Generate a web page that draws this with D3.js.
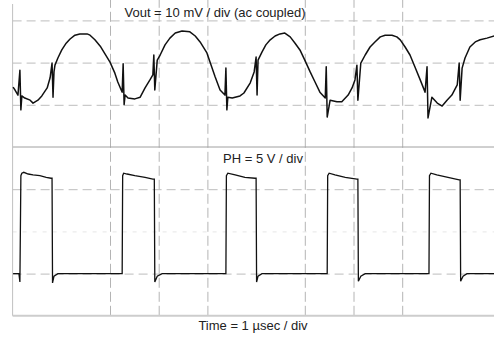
<!DOCTYPE html>
<html>
<head>
<meta charset="utf-8">
<script src="https://cdn.jsdelivr.net/npm/d3@7"></script>
<style>
  body { margin: 0; background: #fff; }
  text { font-family: "Liberation Sans", Arial, sans-serif; font-size: 13px; fill: #222; }
</style>
</head>
<body>
<div id="scope"></div>
<script>
// time in usec, Vout in mV (ac coupled), PH in V
const gridTimes = [2, 3, 4, 6, 7, 8];
const dashedDivs = [3, 2, 1, -1, -3];
const faintDivs = [-2];

const voutT = [0.01, 0.05, 0.11, 0.15, 0.17, 0.19, 0.25, 0.36, 0.42, 0.52, 0.60, 0.71, 0.77, 0.81, 0.83, 0.85, 0.87, 0.93,
  1.01, 1.10, 1.18, 1.28, 1.38, 1.53, 1.59, 1.69, 1.80, 1.90, 2.00, 2.10, 2.16, 2.23, 2.25, 2.27, 2.29, 2.31, 2.37, 2.51,
  2.62, 2.72, 2.82, 2.88, 2.90, 2.92, 2.97, 3.03, 3.13, 3.23, 3.34, 3.48, 3.64, 3.75, 3.85, 3.99, 4.16, 4.26, 4.36, 4.38,
  4.40, 4.42, 4.51, 4.67, 4.75, 4.88, 4.96, 5.00, 5.02, 5.04, 5.12, 5.20, 5.29, 5.39, 5.49, 5.59, 5.70, 5.80, 5.90, 6.00,
  6.11, 6.21, 6.31, 6.42, 6.44, 6.46, 6.52, 6.66, 6.76, 6.89, 6.97, 7.03, 7.07, 7.09, 7.15, 7.24, 7.34, 7.44, 7.55, 7.65,
  7.79, 7.89, 7.96, 8.06, 8.16, 8.26, 8.37, 8.47, 8.51, 8.53, 8.61, 8.72, 8.82, 8.92, 9.02, 9.13, 9.17, 9.19, 9.23, 9.29,
  9.39, 9.50, 9.60, 9.74, 9.89];
const voutMv = [-5.8, -6.5, -7.7, -1.8, -11.2, -7.9, -8.4, -8.9, -9.6, -8.9, -7.9, -6.0, -3.6, -0.1, -8.2, -2.2, -0.6, 1.1,
  3.0, 4.6, 5.6, 6.5, 6.8, 6.8, 6.5, 5.4, 3.9, 2.0, 0.1, -2.5, -4.6, -6.5, -7.0, -0.3, -10.0, -7.7, -8.4, -8.6,
  -8.2, -6.0, -4.1, -2.9, 1.8, -6.5, 0.6, 1.8, 4.2, 5.8, 7.0, 7.5, 7.3, 6.3, 4.9, 2.3, -3.4, -6.5, -7.7, -1.3,
  -11.2, -8.2, -8.4, -7.9, -7.2, -4.8, -2.2, 1.3, -7.7, 0.6, 2.5, 4.2, 5.4, 6.3, 6.8, 7.0, 6.1, 4.6, 3.0, 0.6,
  -2.2, -4.6, -7.0, -8.4, -1.0, -12.9, -8.9, -9.3, -9.3, -7.7, -6.0, -4.1, -0.6, -8.9, -0.1, 1.8, 3.7, 4.9, 6.1, 6.5,
  6.5, 6.1, 5.4, 3.7, 1.8, -1.0, -4.1, -7.0, -1.0, -13.1, -8.2, -9.6, -10.3, -8.9, -7.7, -5.3, -0.1, -8.9, -1.3, 1.1,
  3.7, 4.9, 5.4, 5.8, 6.3];

const phT = [0.01, 0.13, 0.15, 0.17, 0.19, 0.23, 0.32, 0.42, 0.56, 0.69, 0.79, 0.81, 0.82, 0.85, 0.93,
  2.25, 2.26, 2.28, 2.35, 2.51, 2.72, 2.88, 2.91, 2.92, 2.97, 3.07,
  4.38, 4.39, 4.42, 4.57, 4.77, 4.98, 5.00, 5.01, 5.04, 5.12,
  6.46, 6.47, 6.50, 6.62, 6.83, 7.07, 7.09, 7.10, 7.15, 7.24,
  8.55, 8.56, 8.59, 8.71, 8.94, 9.17, 9.19, 9.20, 9.25, 9.33, 9.89];
const phV = [0.0, 0.0, -1.0, 11.6, 11.9, 12.0, 11.8, 11.7, 11.6, 11.4, 11.3, 11.3, -1.1, -0.3, 0.0,
  0.0, 11.6, 11.9, 11.8, 11.6, 11.4, 11.2, 11.2, -1.0, -0.3, 0.0,
  0.0, 11.6, 11.9, 11.7, 11.4, 11.3, 11.3, -1.0, -0.3, 0.0,
  0.0, 11.6, 11.9, 11.7, 11.4, 11.2, 11.2, -0.9, -0.3, 0.0,
  0.0, 11.6, 11.9, 11.7, 11.4, 11.1, 11.1, -0.9, -0.3, 0.0, 0.0];

const width = 494, height = 339;
const svg = d3.select("#scope").append("svg").attr("width", width).attr("height", height);

const x = d3.scaleLinear().domain([0, 10]).range([12.6, 499.6]);
const yDiv = d3.scaleLinear().domain([-4, 3]).range([315.8, 20.4]);
const yVout = d3.scaleLinear().domain([-20, 10]).range([yDiv(0), yDiv(3)]);
const yPh = d3.scaleLinear().domain([0, 15]).range([yDiv(-3), yDiv(0)]);

const plotTop = 0, plotBottom = yDiv(-4), plotLeft = x(0);

// vertical dashed grid
svg.append("g").attr("transform", `translate(0,${plotBottom})`)
    .call(d3.axisBottom(x).tickValues(gridTimes).tickSize(-(plotBottom - plotTop)).tickFormat(""))
    .call(g => g.select(".domain").remove())
    .call(g => g.selectAll("line").attr("stroke", "#b4b4b4").attr("stroke-dasharray", "10,4"));

// horizontal grid
svg.append("g").attr("transform", `translate(${plotLeft},0)`)
    .call(d3.axisLeft(yDiv).tickValues(dashedDivs).tickSize(-(width - plotLeft)).tickFormat(""))
    .call(g => g.select(".domain").remove())
    .call(g => g.selectAll("line").attr("stroke", "#bdbdbd").attr("stroke-dasharray", "9,5"));
svg.append("g").attr("transform", `translate(${plotLeft},0)`)
    .call(d3.axisLeft(yDiv).tickValues(faintDivs).tickSize(-(width - plotLeft)).tickFormat(""))
    .call(g => g.select(".domain").remove())
    .call(g => g.selectAll("line").attr("stroke", "#e6e6e6").attr("stroke-dasharray", "4,6"));

// center line, frame
svg.append("line").attr("x1", plotLeft).attr("x2", width).attr("y1", yDiv(0)).attr("y2", yDiv(0))
    .attr("stroke", "#a0a0a0");
svg.append("line").attr("x1", plotLeft).attr("x2", plotLeft).attr("y1", 4).attr("y2", plotBottom)
    .attr("stroke", "#c0c0c0");
svg.append("line").attr("x1", plotLeft).attr("x2", width).attr("y1", plotBottom).attr("y2", plotBottom)
    .attr("stroke", "#cdcdcd").attr("stroke-width", 2);

// traces
const voutLine = d3.line().x(i => x(voutT[i])).y(i => yVout(voutMv[i]));
const phLine = d3.line().x(i => x(phT[i])).y(i => yPh(phV[i]));

svg.append("path").attr("d", voutLine(d3.range(voutT.length)))
    .attr("fill", "none").attr("stroke", "#111").attr("stroke-width", 1.5).attr("stroke-linejoin", "round");
svg.append("path").attr("d", phLine(d3.range(phT.length)))
    .attr("fill", "none").attr("stroke", "#111").attr("stroke-width", 1.3);

// labels
svg.append("text").attr("x", 215).attr("y", 17).attr("text-anchor", "middle")
    .text("Vout = 10 mV / div (ac coupled)");
svg.append("text").attr("x", 263).attr("y", 163).attr("text-anchor", "middle")
    .text("PH = 5 V / div");
svg.append("text").attr("x", 253).attr("y", 330).attr("text-anchor", "middle")
    .text("Time = 1 µsec / div");
</script>
</body>
</html>
